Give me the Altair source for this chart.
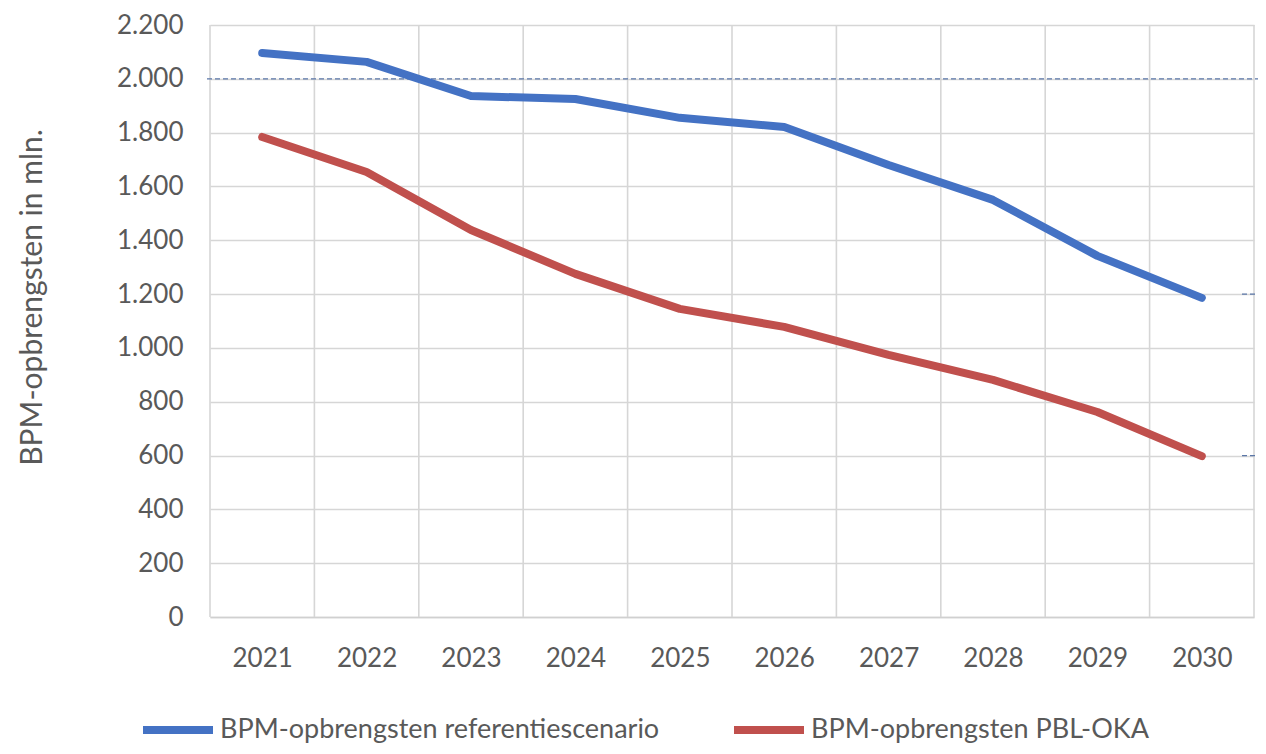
import altair as alt
import pandas as pd

years = [2021, 2022, 2023, 2024, 2025, 2026, 2027, 2028, 2029, 2030]
referentie = [2096, 2063, 1936, 1925, 1855, 1821, 1680, 1550, 1342, 1186]
pbl_oka = [1784, 1654, 1438, 1275, 1145, 1078, 974, 881, 762, 598]
series_names = ["BPM-opbrengsten referentiescenario", "BPM-opbrengsten PBL-OKA"]
series_colors = ["#4472C4", "#C0504D"]
y_ticks = list(range(0, 2201, 200))
ref_line = [2000]
stub_lines = [1200, 600]

W, H = 1044, 592
FONT = "Lato"
GRAY = "#595959"

rows = []
for y, a, b in zip(years, referentie, pbl_oka):
    rows.append({"jaar": y, "waarde": a, "reeks": series_names[0]})
    rows.append({"jaar": y, "waarde": b, "reeks": series_names[1]})
df = pd.DataFrame(rows)

bounds = pd.DataFrame({"jaar": [y - 0.5 for y in years] + [years[-1] + 0.5]})

xscale = alt.Scale(domain=[years[0] - 0.5, years[-1] + 0.5], nice=False, zero=False)
yscale = alt.Scale(domain=[0, 2200], nice=False)

xaxis = alt.Axis(values=years, format="d", title=None, grid=False, ticks=False,
                 domainColor="#d0d0d0", domainWidth=1.6,
                 labelFont=FONT, labelFontSize=26, labelColor=GRAY, labelPadding=28)

vgrid = alt.Chart(bounds).mark_rule(color="#d6d6d6", strokeWidth=1.6).encode(
    x=alt.X("jaar:Q", scale=xscale, axis=xaxis),
    y=alt.value(0),
    y2=alt.value(H),
)

lines = alt.Chart(df).mark_line(strokeWidth=8, strokeCap="round", strokeJoin="round").encode(
    x=alt.X("jaar:Q", scale=xscale, axis=xaxis),
    y=alt.Y("waarde:Q", scale=yscale,
            axis=alt.Axis(values=y_ticks, title="BPM-opbrengsten in mln.",
                          labelExpr="replace(format(datum.value, ',d'), ',', '.')",
                          grid=True, gridColor="#d6d6d6", gridWidth=1.6,
                          domain=False, ticks=False,
                          labelFont=FONT, labelFontSize=26, labelColor=GRAY, labelPadding=27,
                          titleFont=FONT, titleFontSize=30, titleColor=GRAY, titleFontWeight="normal",
                          titleX=-178, titleY=272, titleAngle=-90, titleAlign="center",
                          titleBaseline="middle")),
    color=alt.Color("reeks:N", scale=alt.Scale(domain=series_names, range=series_colors),
                    sort=series_names,
                    legend=alt.Legend(title=None, orient="none", direction="horizontal",
                                      legendX=-71, legendY=666, padding=0,
                                      symbolType="stroke", symbolSize=4900, symbolStrokeWidth=8,
                                      labelFont=FONT, labelFontSize=27, labelColor=GRAY,
                                      labelOffset=3, columnPadding=58, labelLimit=600)),
)

dash_main = alt.Chart(pd.DataFrame({"v": ref_line})).mark_rule(
    color="#5b77a8", strokeWidth=1.2, strokeDash=[5, 3]).encode(
    y=alt.Y("v:Q", scale=yscale), x=alt.value(-3), x2=alt.value(W + 4))

dash_stub = alt.Chart(pd.DataFrame({"v": stub_lines})).mark_rule(
    color="#5b77a8", strokeWidth=1.2, strokeDash=[5, 3]).encode(
    y=alt.Y("v:Q", scale=yscale), x=alt.value(W - 12), x2=alt.value(W + 4))

chart = alt.layer(vgrid, dash_main, dash_stub, lines).properties(
    width=W, height=H,
    autosize=alt.AutoSizeParams(type="none"),
    padding={"left": 202, "top": 17, "right": 4, "bottom": 129},
).configure_view(stroke=None)

chart.save("out.html", embed_options={"renderer": "svg", "actions": False})
